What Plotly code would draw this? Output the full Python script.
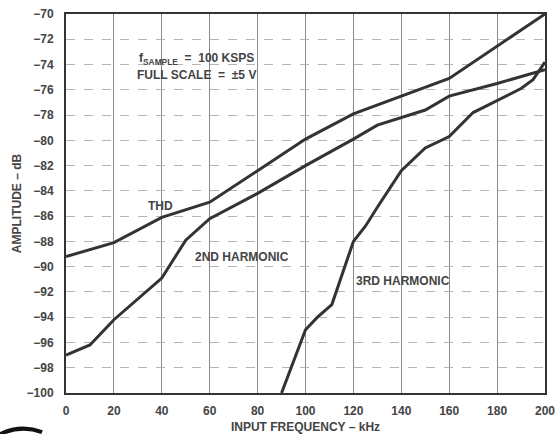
import plotly.graph_objects as go

# ---- data ----
thd_freq = [0, 20, 40, 60, 80, 100, 120, 140, 160, 200]
thd_db = [-89.2, -88.1, -86.1, -84.9, -82.4, -79.9, -77.9, -76.5, -75.1, -70.0]

h2_freq = [0, 10, 20, 40, 50, 60, 80, 100, 120, 130, 150, 160, 180, 200]
h2_db = [-97.0, -96.2, -94.2, -90.9, -87.9, -86.2, -84.2, -82.0, -79.9, -78.8, -77.6, -76.5, -75.5, -74.4]

h3_freq = [90, 100, 105, 111, 120, 125, 130, 140, 150, 160, 170, 190, 195, 200]
h3_db = [-100.0, -95.0, -94.0, -93.0, -88.0, -86.8, -85.3, -82.4, -80.6, -79.7, -77.8, -75.9, -75.2, -73.8]

x_ticks = [0, 20, 40, 60, 80, 100, 120, 140, 160, 180, 200]
y_ticks = [-70, -72, -74, -76, -78, -80, -82, -84, -86, -88, -90, -92, -94, -96, -98, -100]

labels = ["THD", "2ND HARMONIC", "3RD HARMONIC"]

LINE = "#333333"
TXT = "#444444"
FONT = "Liberation Sans"

fig = go.Figure()
for fx, fy, name in [(thd_freq, thd_db, labels[0]), (h2_freq, h2_db, labels[1]), (h3_freq, h3_db, labels[2])]:
    fig.add_trace(go.Scatter(x=fx, y=fy, mode="lines", name=name,
                             line=dict(color=LINE, width=3), showlegend=False))

annots = [
    dict(x=39.4, y=-85.2, text=labels[0]),
    dict(x=73.5, y=-89.2, text=labels[1]),
    dict(x=140.8, y=-91.1, text=labels[2]),
    dict(x=29.5, y=-73.6, text="f<sub>SAMPLE</sub>  =  100 KSPS", xanchor="left"),
    dict(x=29.0, y=-74.8, text="FULL SCALE  =  ±5 V", xanchor="left"),
]
for a in annots:
    fig.add_annotation(x=a["x"], y=a["y"], text=a["text"], showarrow=False,
                       xanchor=a.get("xanchor", "center"), yanchor="middle",
                       font=dict(family=FONT, size=12, color=TXT, weight="bold"))

# scan artifact arc at bottom-left
fig.add_shape(type="path", xref="paper", yref="paper",
              path="M -0.14 -0.11 Q -0.095 -0.082 -0.05 -0.103",
              line=dict(color="#111111", width=4))

fig.update_xaxes(range=[0, 200], tickvals=x_ticks, showgrid=True, automargin=False,
                 gridcolor="#8a8a8a", gridwidth=1,
                 showline=True, mirror=True, linecolor="#333333", linewidth=2,
                 ticks="", ticklabelstandoff=6, zeroline=False,
                 tickfont=dict(family=FONT, size=12, color=TXT, weight="bold"),
                 title=dict(text="INPUT FREQUENCY – kHz", standoff=11,
                            font=dict(family=FONT, size=12, color=TXT, weight="bold")))
fig.update_yaxes(range=[-100, -70], tickvals=y_ticks, showgrid=True, automargin=False,
                 gridcolor="#b5b5b5", gridwidth=1, griddash="dash",
                 showline=True, mirror=True, linecolor="#333333", linewidth=2,
                 ticks="", ticklabelstandoff=8, zeroline=False,
                 tickfont=dict(family=FONT, size=12, color=TXT, weight="bold"),
                 title=dict(text="AMPLITUDE – dB", standoff=2,
                            font=dict(family=FONT, size=12, color=TXT, weight="bold")))

fig.update_layout(width=556, height=434,
                  margin=dict(l=66, r=11, t=14, b=41, autoexpand=False),
                  plot_bgcolor="white", paper_bgcolor="white")

fig.write_html("out.html", config={"displayModeBar": False},
               post_script="document.body.style.margin='0';document.body.style.overflow='hidden';")
